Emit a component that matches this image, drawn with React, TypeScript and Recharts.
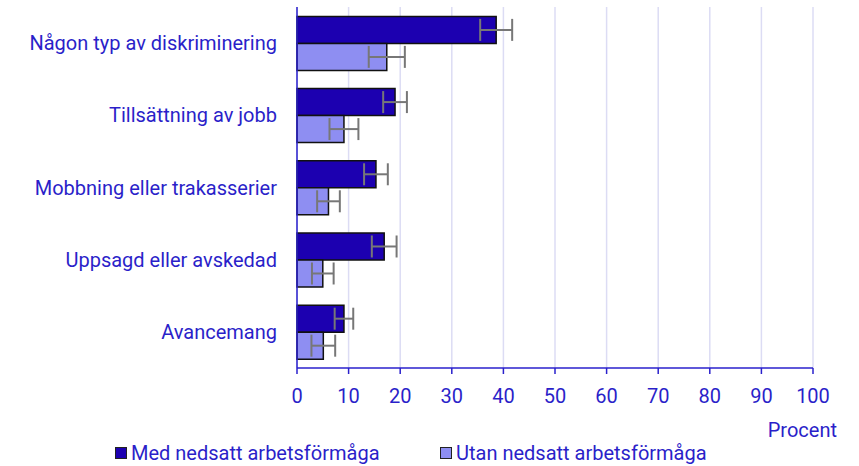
import React from 'react';
import { BarChart, Bar, XAxis, YAxis, CartesianGrid, ErrorBar } from 'recharts';

const categories = [
  'Någon typ av diskriminering',
  'Tillsättning av jobb',
  'Mobbning eller trakasserier',
  'Uppsagd eller avskedad',
  'Avancemang',
];
const medValues = [38.6, 19.0, 15.3, 16.9, 9.1];
const medErrors = [3.1, 2.3, 2.3, 2.4, 1.8];
const utanValues = [17.4, 9.1, 6.1, 5.0, 5.1];
const utanErrors = [3.5, 2.8, 2.2, 2.1, 2.3];
const xTicks = [0, 10, 20, 30, 40, 50, 60, 70, 80, 90, 100];
const seriesNames = ['Med nedsatt arbetsförmåga', 'Utan nedsatt arbetsförmåga'];

const TEXT = '#2b1fc9';
const AXIS = '#2a20cc';
const GRID = '#dcdcf4';
const DARK = '#1c00b0';
const LIGHT = '#8e8ef2';
const FONT = 'Roboto, "Noto Sans", sans-serif';
const FS = 20;

const data = categories.map((name, i) => ({
  name,
  med: medValues[i],
  medErr: medErrors[i],
  utan: utanValues[i],
  utanErr: utanErrors[i],
}));

const ProcentLabel = (props: any) => {
  const { viewBox } = props;
  return (
    <text
      x={viewBox.x + viewBox.width + 24}
      y={viewBox.y + 69}
      textAnchor="end"
      fill={TEXT}
      fontSize={FS}
      fontFamily={FONT}
    >
      Procent
    </text>
  );
};

const legendLeft = [115, 440];

export default function App() {
  return (
    <div style={{ position: 'absolute', left: 0, top: 0, width: 859, height: 466, background: '#fff' }}>
      <BarChart
        width={859}
        height={466}
        data={data}
        layout="vertical"
        margin={{ top: 7, right: 46, bottom: 0, left: 0 }}
        barCategoryGap="13%"
        barGap={0}
      >
        <CartesianGrid horizontal={false} stroke={GRID} strokeWidth={1.5} />
        <XAxis
          type="number"
          domain={[0, 100]}
          ticks={xTicks}
          interval={0}
          height={98}
          axisLine={{ stroke: AXIS, strokeWidth: 1.5 }}
          tickLine={{ stroke: AXIS, strokeWidth: 1.5 }}
          tickSize={6}
          tickMargin={15}
          tick={{ fill: TEXT, fontSize: FS, fontFamily: FONT }}
          label={<ProcentLabel />}
        />
        <XAxis
          xAxisId="top"
          orientation="top"
          type="number"
          domain={[0, 100]}
          height={0}
          tick={false}
          tickLine={false}
          axisLine={{ stroke: GRID, strokeWidth: 1.5 }}
        />
        <YAxis
          type="category"
          dataKey="name"
          width={297}
          axisLine={{ stroke: AXIS, strokeWidth: 1.5 }}
          tickLine={false}
          tickSize={0}
          tickMargin={20}
          tick={{ fill: TEXT, fontSize: FS, fontFamily: FONT }}
        />
        <Bar dataKey="med" name={seriesNames[0]} fill={DARK} stroke="#111" strokeWidth={1.5} isAnimationActive={false}>
          <ErrorBar dataKey="medErr" direction="x" width={11} stroke="#777" strokeWidth={2} />
        </Bar>
        <Bar dataKey="utan" name={seriesNames[1]} fill={LIGHT} stroke="#111" strokeWidth={1.5} isAnimationActive={false}>
          <ErrorBar dataKey="utanErr" direction="x" width={11} stroke="#777" strokeWidth={2} />
        </Bar>
      </BarChart>
      {seriesNames.map((s, i) => (
        <div
          key={s}
          style={{
            position: 'absolute',
            left: legendLeft[i],
            top: 442,
            display: 'flex',
            alignItems: 'center',
            fontFamily: FONT,
            fontSize: FS,
            color: TEXT,
            lineHeight: '22px',
            whiteSpace: 'nowrap',
          }}
        >
          <span
            style={{
              display: 'inline-block',
              width: 10,
              height: 10,
              background: i === 0 ? DARK : LIGHT,
              border: '1.5px solid #222',
              marginRight: 4,
            }}
          />
          {s}
        </div>
      ))}
    </div>
  );
}
